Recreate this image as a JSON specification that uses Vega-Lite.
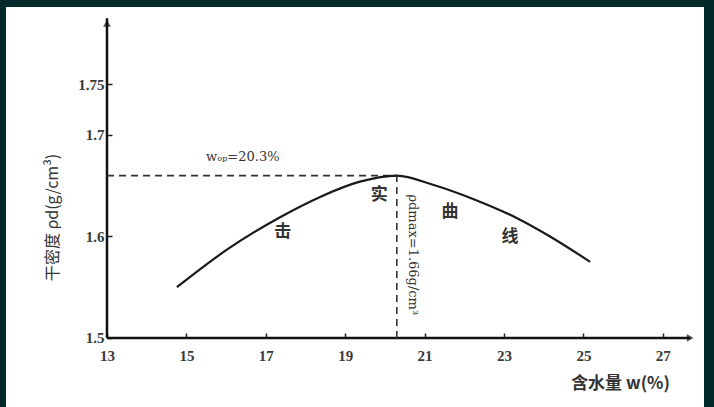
{
  "$schema": "https://vega.github.io/schema/vega-lite/v6.json",
  "width": 698,
  "height": 400,
  "autosize": "none",
  "padding": {"left": 6, "top": 7, "right": 10, "bottom": 0},
  "background": "#03292b",
  "config": {
    "view": {"fill": "white", "stroke": null},
    "font": "Liberation Serif"
  },
  "datasets": {
    "curve": [
      {"w": 14.76, "rho": 1.550},
      {"w": 16.02, "rho": 1.587},
      {"w": 17.36, "rho": 1.619},
      {"w": 18.37, "rho": 1.639},
      {"w": 19.37, "rho": 1.654},
      {"w": 20.3, "rho": 1.66},
      {"w": 21.21, "rho": 1.651},
      {"w": 22.22, "rho": 1.637},
      {"w": 23.33, "rho": 1.618},
      {"w": 24.16, "rho": 1.600},
      {"w": 25.17, "rho": 1.575}
    ],
    "axisLines": [
      {"w": 13, "rho": 1.5, "w2": 27.69, "rho2": 1.5},
      {"w": 13, "rho": 1.5, "w2": 13, "rho2": 1.815}
    ],
    "guides": [
      {"w": 13, "rho": 1.66, "w2": 20.3, "rho2": 1.66},
      {"w": 20.3, "rho": 1.5, "w2": 20.3, "rho2": 1.66}
    ],
    "arrows": [
      {"w": 27.69, "rho": 1.5, "shape": "triangle-right"},
      {"w": 13, "rho": 1.81, "shape": "triangle-up"}
    ],
    "words": [
      {"w": 17.43, "rho": 1.604, "text": "击"},
      {"w": 19.86, "rho": 1.641, "text": "实"},
      {"w": 21.64, "rho": 1.624, "text": "曲"},
      {"w": 23.15, "rho": 1.599, "text": "线"}
    ],
    "notes": [
      {"w": 16.42, "rho": 1.678, "text": "wₒₚ=20.3%", "angle": 0},
      {"w": 20.72, "rho": 1.582, "text": "ρdmax=1.66g/cm³", "angle": 90}
    ]
  },
  "encoding": {
    "x": {
      "field": "w",
      "type": "quantitative",
      "scale": {"domain": [10.456, 28.038], "nice": false, "zero": false},
      "axis": {
        "title": "含水量 w(%)",
        "values": [13, 15, 17, 19, 21, 23, 25, 27],
        "domain": false,
        "grid": false,
        "offset": -69,
        "tickSize": -5,
        "tickColor": "#222",
        "tickWidth": 1.5,
        "labelPadding": 15,
        "labelFont": "Liberation Serif",
        "labelFontSize": 15,
        "labelFontWeight": "bold",
        "labelColor": "#3a3a3a",
        "titleFont": "Noto Sans CJK SC",
        "titleFontSize": 17,
        "titleFontWeight": "bold",
        "titleColor": "#333",
        "titleX": 614,
        "titleY": 45,
        "titleAlign": "center",
        "titleBaseline": "middle"
      }
    },
    "y": {
      "field": "rho",
      "type": "quantitative",
      "scale": {"domain": [1.432, 1.8261], "nice": false, "zero": false},
      "axis": {
        "title": "干密度 ρd(g/cm³)",
        "values": [1.5, 1.6, 1.7, 1.75],
        "labelExpr": "datum.value == 1.75 ? '1.75' : format(datum.value, '.1f')",
        "domain": false,
        "grid": false,
        "offset": -101,
        "tickSize": -5,
        "tickColor": "#222",
        "tickWidth": 1.5,
        "labelPadding": 8,
        "labelFont": "Liberation Serif",
        "labelFontSize": 15,
        "labelFontWeight": "bold",
        "labelColor": "#3a3a3a",
        "titleFont": "Noto Sans CJK SC",
        "titleFontSize": 16,
        "titleFontWeight": "normal",
        "titleColor": "#333",
        "titleAngle": -90,
        "titleX": -55,
        "titleY": 210,
        "titleAlign": "center",
        "titleBaseline": "middle"
      }
    }
  },
  "layer": [
    {
      "data": {"name": "axisLines"},
      "mark": {"type": "rule", "color": "#111", "strokeWidth": 2.5},
      "encoding": {
        "x2": {"field": "w2"},
        "y2": {"field": "rho2"}
      }
    },
    {
      "data": {"name": "guides"},
      "mark": {"type": "rule", "color": "#333", "strokeWidth": 1.6, "strokeDash": [7, 5]},
      "encoding": {
        "x2": {"field": "w2"},
        "y2": {"field": "rho2"}
      }
    },
    {
      "data": {"name": "curve"},
      "mark": {"type": "line", "color": "#1a1a1a", "strokeWidth": 2.2, "interpolate": "monotone"}
    },
    {
      "data": {"name": "arrows"},
      "mark": {"type": "point", "filled": true, "color": "#111", "size": 60},
      "encoding": {
        "shape": {"field": "shape", "type": "nominal", "scale": null}
      }
    },
    {
      "data": {"name": "words"},
      "mark": {"type": "text", "font": "Noto Sans CJK SC", "fontSize": 17, "fontWeight": "bold", "color": "#333"},
      "encoding": {
        "text": {"field": "text"}
      }
    },
    {
      "data": {"name": "notes"},
      "mark": {"type": "text", "font": "DejaVu Serif", "fontSize": 13, "color": "#333"},
      "encoding": {
        "text": {"field": "text"},
        "angle": {"field": "angle", "type": "quantitative", "scale": null}
      }
    }
  ]
}
